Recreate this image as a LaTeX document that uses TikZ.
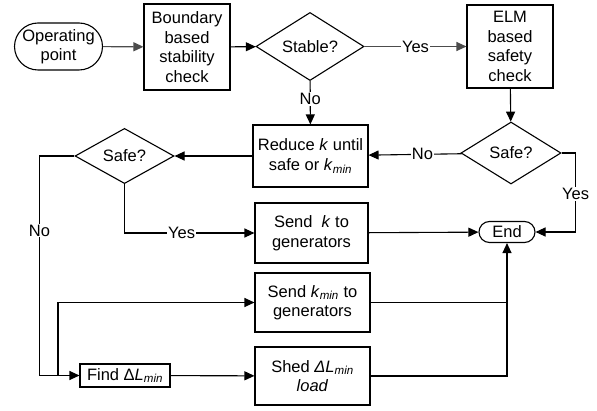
\documentclass[tikz,border=0pt]{standalone}
\usepackage{fontspec}
\setmainfont{Liberation Sans}
\usepackage{tikz}
\usetikzlibrary{arrows.meta,shapes.geometric,shapes.misc}

\newcommand\kmin{\textit{k}\textsubscript{\textit{min}}}
\newcommand\Lmin{\textit{L}\textsubscript{\textit{min}}}

\begin{document}
\begin{tikzpicture}
  [x=1pt,y=-1pt,line width=1.1pt,
   every node/.style={font=\fontsize{16.5}{19.5}\selectfont,align=center},
   term/.style={draw,rounded rectangle,inner sep=0pt},
   proc/.style={draw,rectangle,inner sep=0pt},
   decide/.style={draw,diamond,inner sep=0pt},
   arr/.style={-{Triangle[length=10pt,width=9pt]}},
   lbl/.style={fill=white,inner sep=1pt}]
  \useasboundingbox (0,0) rectangle (597,411);

  \node[term,minimum width=87,minimum height=47] (op) at (58.5,46.5) {Operating\\point};
  \node[proc,minimum width=86,minimum height=86] (bnd) at (187,47) {Boundary\\based\\stability\\check};
  \node[decide,minimum width=108,minimum height=63] (stable) at (310,46.5) {Stable?};
  \node[proc,minimum width=86,minimum height=83] (elm) at (510,46.5) {ELM\\based\\safety\\check};
  \node[decide,minimum width=100,minimum height=62] (safeR) at (511,153) {Safe?};
  \node[proc,minimum width=115,minimum height=62] (reduce) at (310.5,156) {Reduce \textit{k} until\\safe or \kmin};
  \node[decide,minimum width=99,minimum height=52] (safeL) at (124.5,156) {Safe?};
  \node[proc,minimum width=113,minimum height=60] (sendk) at (311.5,233) {Send\ \ \textit{k} to\\generators};
  \node[term,minimum width=56,minimum height=21] (end) at (507,232) {End};
  \node[proc,minimum width=115,minimum height=59] (sendkmin) at (312.5,302.5) {Send \kmin\ to\\generators};
  \node[proc,minimum width=115,minimum height=58] (shed) at (312.5,376) {Shed \textit{Δ}\Lmin\\\textit{load}};
  \node[proc,minimum width=90,minimum height=23] (find) at (125,375.5) {Find Δ\Lmin};
  \coordinate (split) at (58,375.5);

  \draw[arr,black!70] (op) -- (bnd);
  \draw[arr] (bnd) -- (stable);
  \draw[arr,black!70] (stable) -- node[lbl,text=black] {Yes} (elm);
  \draw[arr] (stable) -- node[lbl,pos=0.42] {No} (reduce);
  \draw[arr] (elm) -- (safeR);
  \draw[arr] (safeR) -- node[lbl,pos=0.42] {No} (reduce);
  \draw[arr] (safeR.east) -- ++(14,0) |- node[lbl,pos=0.26] {Yes} (end.east);
  \draw[arr] (reduce) -- (safeL);
  \draw[arr] (safeL.south) |- node[lbl,pos=0.72] {Yes} (sendk.west);
  \draw[arr] (safeL.west) -- ++(-35,0) |- node[lbl,pos=0.17] {No} (find.west);
  \draw[arr] (split) |- (sendkmin.west);
  \draw[arr] (sendk) -- (end);
  \draw[arr] (find) -- (shed);
  \draw[arr] (shed.east) -| (end.south);
  \draw (sendkmin.east) -- (sendkmin.east -| end.south);

\end{tikzpicture}
\end{document}
